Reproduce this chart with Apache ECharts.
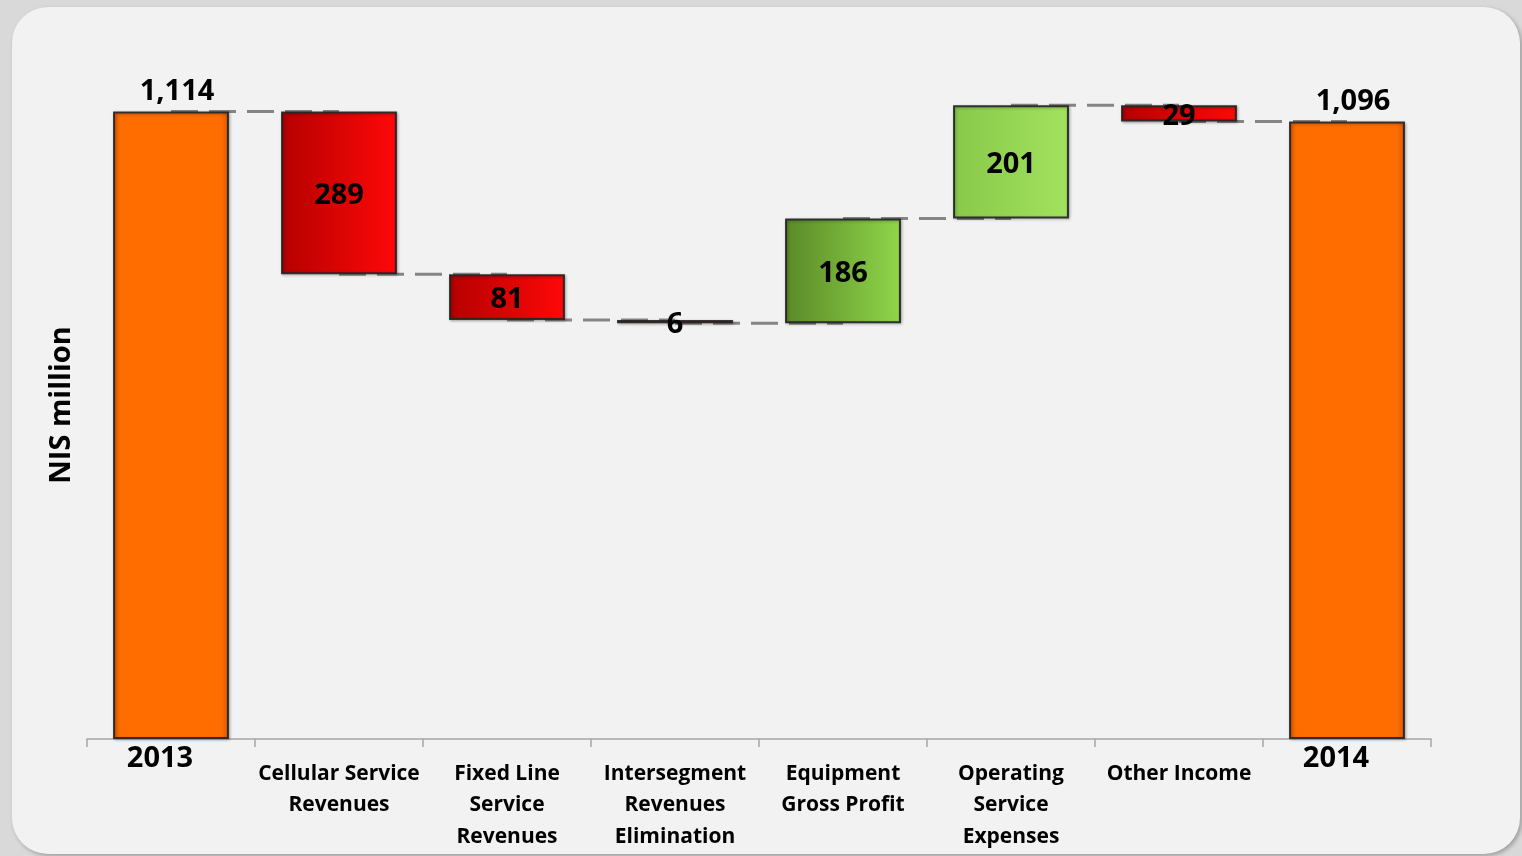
<!DOCTYPE html>
<html>
<head>
<meta charset="utf-8">
<script src="https://cdn.jsdelivr.net/npm/echarts@6/dist/echarts.min.js"></script>
<style>
  html, body { margin: 0; padding: 0; width: 1522px; height: 856px; overflow: hidden; background: #d9d9d9; }
  #panel {
    position: absolute; left: 12px; top: 7px; width: 1508px; height: 847px;
    background: #f2f2f2; border-radius: 36px;
    box-shadow: 2px 2px 4px rgba(0, 0, 0, 0.28);
  }
  #chart { position: absolute; left: 0; top: 0; width: 1522px; height: 856px; }
</style>
</head>
<body>
<div id="panel"></div>
<div id="chart"></div>
<script>
// Operating profit bridge, NIS million
const categories = [
  '2013',
  'Cellular Service\nRevenues',
  'Fixed Line\nService\nRevenues',
  'Intersegment\nRevenues\nElimination',
  'Equipment\nGross Profit',
  'Operating\nService\nExpenses',
  'Other Income',
  '2014'
];
const startTotal = 1114;
const changes = [-289, -81, -6, 186, 201, -29];
const endTotal = 1096;
const totalLabels = ['2013', '2014'];

// Fill colours per bar kind
const orangeFill = { type: 'linear', x: 0, y: 0, x2: 1, y2: 0, colorStops: [
  { offset: 0, color: '#e25e00' }, { offset: 0.07, color: '#ff6d00' },
  { offset: 0.93, color: '#ff6d00' }, { offset: 1, color: '#d95a00' } ] };
const redFill = { type: 'linear', x: 0, y: 0, x2: 1, y2: 0, colorStops: [
  { offset: 0, color: '#b50000' }, { offset: 1, color: '#ff0808' } ] };
const greenDarkFill = { type: 'linear', x: 0, y: 0, x2: 1, y2: 0, colorStops: [
  { offset: 0, color: '#5a8a28' }, { offset: 1, color: '#90d64a' } ] };
const greenLightFill = { type: 'linear', x: 0, y: 0, x2: 1, y2: 0, colorStops: [
  { offset: 0, color: '#88c94a' }, { offset: 1, color: '#a2e25e' } ] };

// Build the floating bases, bar heights and running levels
const baseVals = [0];
const barVals = [startTotal];
const levels = [startTotal];
const fills = [orangeFill];
let running = startTotal;
changes.forEach(function (d, i) {
  const next = running + d;
  baseVals.push(Math.min(running, next));
  barVals.push(Math.abs(d));
  running = next;
  levels.push(running);
  if (d < 0) fills.push(redFill);
  else fills.push(i === 3 ? greenDarkFill : greenLightFill);
});
baseVals.push(0);
barVals.push(endTotal);
fills.push(orangeFill);

const fmt = function (v) { return v.toLocaleString('en-US'); };
const FONT = '"Open Sans", Lato, sans-serif';

const barData = barVals.map(function (v, i) {
  const isTotal = i === 0 || i === barVals.length - 1;
  return {
    value: v,
    itemStyle: { color: fills[i] },
    label: {
      show: true,
      position: isTotal ? 'top' : 'inside',
      distance: 1,
      offset: isTotal ? [6, -4] : [0, 3],
      formatter: function (p) { return fmt(p.value); },
      color: '#000', fontSize: 29, fontWeight: 'bold', fontFamily: FONT
    }
  };
});

// Dashed connectors between consecutive bar centres
const connectorData = levels.map(function (lv, i) { return [i, lv]; });

const chart = echarts.init(document.getElementById('chart'), null, { renderer: 'canvas' });
chart.setOption({
  backgroundColor: 'transparent',
  animation: false,
  grid: { left: 87, right: 91, top: 63, bottom: 117, containLabel: false },
  xAxis: {
    type: 'category',
    data: categories,
    axisLine: { lineStyle: { color: '#a6a6a6', width: 1.5 } },
    axisTick: { show: true, length: 8, lineStyle: { color: '#a6a6a6', width: 1.5 } },
    axisLabel: {
      interval: 0,
      margin: 5,
      fontFamily: FONT,
      formatter: function (v) {
        if (totalLabels.indexOf(v) >= 0) return '{y|' + v + '}';
        return '{gap| }\n' + v.split('\n').map(function (s) { return '{c|' + s + '}'; }).join('\n');
      },
      rich: {
        y: { fontSize: 29, fontWeight: 'bold', color: '#000', lineHeight: 30, fontFamily: FONT, padding: [0, 22, 0, 0] },
        gap: { fontSize: 1, lineHeight: 14 },
        c: { fontSize: 21, fontWeight: 'bold', color: '#000', lineHeight: 31.5, fontFamily: FONT }
      }
    }
  },
  yAxis: {
    type: 'value',
    min: 0,
    max: 1200,
    axisLine: { show: false },
    axisTick: { show: false },
    axisLabel: { show: false },
    splitLine: { show: false },
    name: 'NIS million',
    nameLocation: 'middle',
    nameGap: 11,
    nameTextStyle: { fontSize: 29, fontWeight: 'bold', color: '#000', fontFamily: FONT, padding: [0, 8, 0, 0] }
  },
  series: [
    {
      type: 'bar', stack: 'wf', data: baseVals, barWidth: '69%',
      itemStyle: { color: 'transparent' }, silent: true
    },
    {
      type: 'bar', stack: 'wf', data: barData, barWidth: '69%',
      itemStyle: {
        borderColor: 'rgba(35,35,35,0.9)', borderWidth: 2,
        shadowBlur: 3, shadowColor: 'rgba(0,0,0,0.3)', shadowOffsetX: 1, shadowOffsetY: 1
      }
    },
    {
      type: 'custom',
      data: connectorData,
      z: 2,
      renderItem: function (params, api) {
        const i = api.value(0);
        const lv = api.value(1);
        if (i >= categories.length - 1) return null;
        const a = api.coord([i, lv]);
        const b = api.coord([i + 1, lv]);
        return {
          type: 'line',
          z2: 0,
          shape: { x1: a[0], y1: a[1], x2: b[0], y2: b[1] },
          style: { stroke: '#858585', lineWidth: 3, lineDash: [27, 11] }
        };
      }
    }
  ]
});
</script>
</body>
</html>
